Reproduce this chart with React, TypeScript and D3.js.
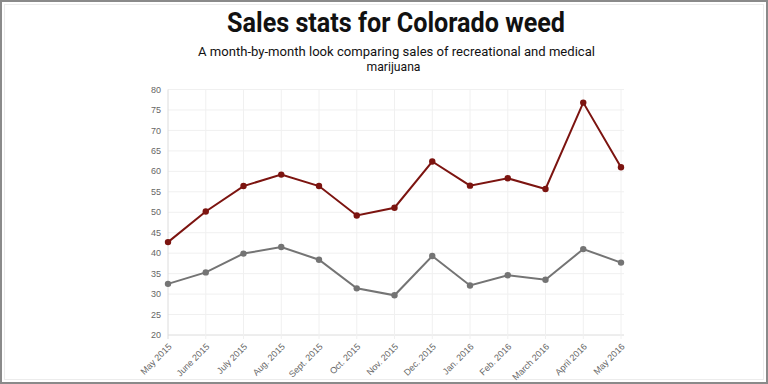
import React, { useEffect, useRef } from 'react';
import * as d3 from 'd3';

const months = [
  "May 2015", "June 2015", "July 2015", "Aug. 2015", "Sept. 2015", "Oct. 2015",
  "Nov. 2015", "Dec. 2015", "Jan. 2016", "Feb. 2016", "March 2016", "April 2016", "May 2016",
];
const recreational = [42.7, 50.2, 56.4, 59.2, 56.4, 49.2, 51.1, 62.4, 56.5, 58.3, 55.7, 76.8, 61.0];
const medical = [32.5, 35.3, 39.9, 41.5, 38.4, 31.4, 29.7, 39.3, 32.1, 34.6, 33.5, 41.0, 37.7];
const yTicks = [20, 25, 30, 35, 40, 45, 50, 55, 60, 65, 70, 75, 80];

const title = "Sales stats for Colorado weed";
const subtitle1 = "A month-by-month look comparing sales of recreational and medical";
const subtitle2 = "marijuana";

const W = 768;
const H = 384;
const margin = { top: 89.5, right: 147, bottom: 49, left: 168 };

export default function App() {
  const ref = useRef<SVGSVGElement>(null);

  useEffect(() => {
    document.body.style.margin = "0";
    const svg = d3.select(ref.current);
    svg.selectAll("*").remove();

    // frame
    svg.append("rect").attr("x", 1).attr("y", 1).attr("width", W - 2).attr("height", H - 2)
      .attr("fill", "white").attr("stroke", "#8a8a8a").attr("stroke-width", 2);
    svg.append("rect").attr("x", 4.5).attr("y", 4.5).attr("width", W - 9).attr("height", H - 9)
      .attr("fill", "none").attr("stroke", "#ececec").attr("stroke-width", 1);

    // titles
    svg.append("text").attr("x", 396).attr("y", 32).attr("text-anchor", "middle")
      .attr("font-family", "Roboto").attr("font-weight", "bold").attr("font-size", 27)
      .attr("fill", "#111").attr("textLength", 338).attr("lengthAdjust", "spacingAndGlyphs")
      .text(title);
    svg.append("text").attr("x", 396.5).attr("y", 55.5).attr("text-anchor", "middle")
      .attr("font-family", "Roboto").attr("font-size", 13).attr("fill", "#111")
      .attr("textLength", 397).attr("lengthAdjust", "spacingAndGlyphs")
      .text(subtitle1);
    svg.append("text").attr("x", 393.5).attr("y", 70.5).attr("text-anchor", "middle")
      .attr("font-family", "Roboto").attr("font-size", 13).attr("fill", "#111")
      .attr("textLength", 54).attr("lengthAdjust", "spacingAndGlyphs")
      .text(subtitle2);

    const x = d3.scalePoint<string>().domain(months).range([margin.left, W - margin.right]);
    const y = d3.scaleLinear().domain([20, 80]).range([H - margin.bottom, margin.top]);

    // grid
    const grid = svg.append("g");
    grid.selectAll("line.h").data(yTicks).enter().append("line")
      .attr("x1", margin.left).attr("x2", W - margin.right + 3)
      .attr("y1", d => y(d)).attr("y2", d => y(d))
      .attr("stroke", d => d === 20 ? "#dcdcdc" : "#f0f0f0").attr("stroke-width", 1);
    grid.selectAll("line.v").data(months).enter().append("line")
      .attr("x1", d => x(d)!).attr("x2", d => x(d)!)
      .attr("y1", margin.top).attr("y2", H - margin.bottom + 4)
      .attr("stroke", (d, i) => i === 0 ? "#dcdcdc" : "#f0f0f0").attr("stroke-width", 1);

    // y labels
    svg.append("g").selectAll("text").data(yTicks).enter().append("text")
      .attr("x", margin.left - 7).attr("y", d => y(d)).attr("dy", "0.35em")
      .attr("text-anchor", "end").attr("font-family", "Liberation Sans").attr("font-size", 9)
      .attr("fill", "#666").text(d => d);

    // x labels
    svg.append("g").selectAll("text").data(months).enter().append("text")
      .attr("transform", d => `translate(${x(d)! + 2},${H - margin.bottom + 10}) rotate(-45)`)
      .attr("dy", "0.35em").attr("text-anchor", "end")
      .attr("font-family", "Liberation Sans").attr("font-size", 9)
      .attr("fill", "#666").text(d => d);

    const line = d3.line<number>().x((d, i) => x(months[i])!).y(d => y(d));

    const series = [
      { values: medical, color: "#747474" },
      { values: recreational, color: "#7c1410" },
    ];
    series.forEach(s => {
      svg.append("path").datum(s.values).attr("d", line)
        .attr("fill", "none").attr("stroke", s.color).attr("stroke-width", 2);
      svg.append("g").selectAll("circle").data(s.values).enter().append("circle")
        .attr("cx", (d, i) => x(months[i])!).attr("cy", d => y(d)).attr("r", 3.2)
        .attr("fill", s.color);
    });
  }, []);

  return <svg ref={ref} width={W} height={H} style={{ display: "block" }} />;
}
